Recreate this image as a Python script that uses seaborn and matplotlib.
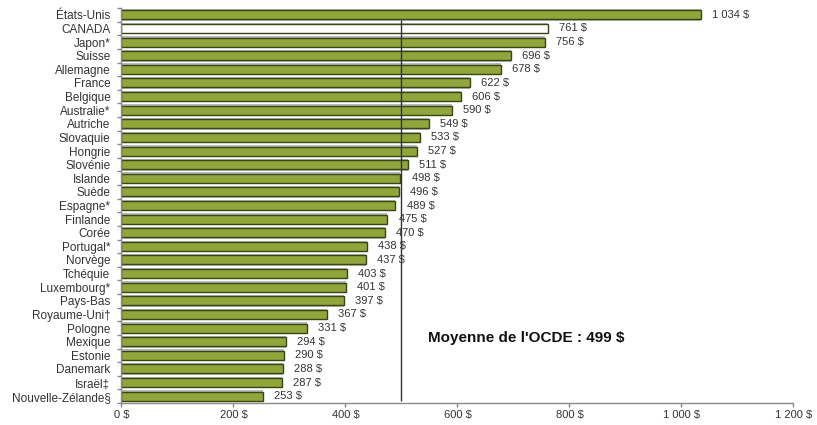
import matplotlib
matplotlib.use("Agg")
import matplotlib.pyplot as plt
import seaborn as sns
import pandas as pd
import numpy as np

# Dépenses par habitant, pays de l'OCDE
pays = ["États-Unis", "CANADA", "Japon*", "Suisse", "Allemagne", "France",
        "Belgique", "Australie*", "Autriche", "Slovaquie", "Hongrie",
        "Slovénie", "Islande", "Suède", "Espagne*", "Finlande", "Corée",
        "Portugal*", "Norvège", "Tchéquie", "Luxembourg*", "Pays-Bas",
        "Royaume-Uni†", "Pologne", "Mexique", "Estonie", "Danemark",
        "Israël‡", "Nouvelle-Zélande§"]
valeurs = [1034, 761, 756, 696, 678, 622, 606, 590, 549, 533, 527, 511, 498,
           496, 489, 475, 470, 438, 437, 403, 401, 397, 367, 331, 294, 290,
           288, 287, 253]
moyenne_ocde = 499
ticks_x = [0, 200, 400, 600, 800, 1000, 1200]
ticks_x_labels = ["0 $", "200 $", "400 $", "600 $", "800 $", "1 000 $", "1 200 $"]

def fmt(v):
    s = f"{v:,}".replace(",", " ")
    return f"{s} $"

sns.set_theme(style="white")
plt.rcParams["font.family"] = ["Liberation Sans", "DejaVu Sans"]

df = pd.DataFrame({"pays": pays, "valeur": valeurs})
vert = "#91a63a"
couleurs = {p: ("#ffffff" if p == "CANADA" else vert) for p in pays}

fig = plt.figure(figsize=(8.17, 4.25), dpi=100)
ax = fig.add_axes([0.1487, 0.0518, 0.8225, 0.9293])

# ombre grise derrière chaque barre
sns.barplot(data=df, x="valeur", y="pays", orient="h", color="#b8b8c2",
            width=0.86, linewidth=0, saturation=1, ax=ax, zorder=1)
sns.barplot(data=df, x="valeur", y="pays", hue="pays", palette=couleurs,
            orient="h", width=0.66, edgecolor="#3a4512", linewidth=1.0,
            saturation=1, legend=False, ax=ax, zorder=2)

ax.vlines(moyenne_ocde, 0.35, 28.35, color="#333333", linewidth=1.0, zorder=3)
ax.text(547, 23.7, f"Moyenne de l'OCDE : {moyenne_ocde} $", fontsize=11,
        fontweight="bold", color="#111111", va="center", ha="left")

for i, v in enumerate(valeurs):
    ax.text(v + 20, i, fmt(v), fontsize=8, color="#333333", va="center",
            ha="left", zorder=4)

ax.set_xlim(0, 1200)
ax.set_ylim(28.5, -0.45)
ax.set_xticks(ticks_x)
ax.set_xticklabels(ticks_x_labels, fontsize=8, color="#333333")
ax.set_yticks(range(len(pays)))
ax.set_yticklabels(pays, fontsize=8.5, color="#333333")
ax.set_xlabel("")
ax.set_ylabel("")

for s in ["top", "right"]:
    ax.spines[s].set_visible(False)
for s in ["left", "bottom"]:
    ax.spines[s].set_color("#8a8a8a")
    ax.spines[s].set_linewidth(1.0)

ax.tick_params(axis="x", direction="out", length=3, width=1, color="#8a8a8a",
               pad=2, bottom=True)
ax.tick_params(axis="y", length=0, pad=8)
# petites graduations entre les catégories
ax.set_yticks(np.arange(-0.5, len(pays), 1), minor=True)
ax.tick_params(axis="y", which="minor", direction="out", length=3, width=1,
               color="#8a8a8a", left=True)

fig.savefig("out.png", dpi=100)
